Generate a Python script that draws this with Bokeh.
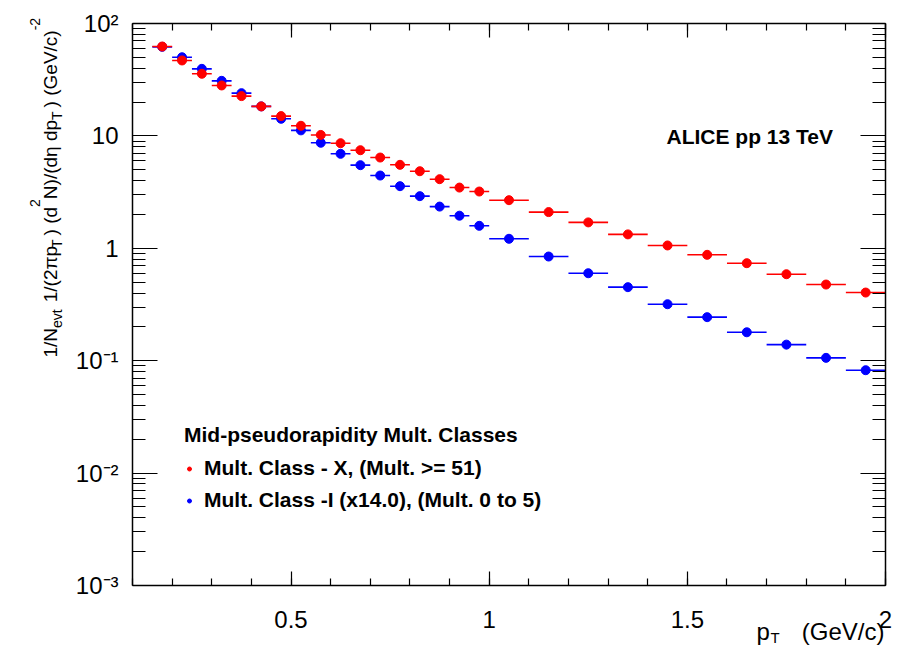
import numpy as np
from bokeh.plotting import figure
from bokeh.models import (LinearAxis, LogAxis, FixedTicker, CustomJSTickFormatter,
                          Label, Legend, LegendItem, Range1d)
from bokeh.embed import file_html
from bokeh.resources import INLINE

# ---------------- data ----------------
pt_center = [0.175, 0.225, 0.275, 0.325, 0.375, 0.425, 0.475, 0.525, 0.575, 0.625,
             0.675, 0.725, 0.775, 0.825, 0.875, 0.925, 0.975,
             1.05, 1.15, 1.25, 1.35, 1.45, 1.55, 1.65, 1.75, 1.85, 1.95]
pt_halfwidth = [0.025] * 17 + [0.05] * 10

class_x = [62.4, 46.9, 35.7, 28.1, 22.6, 18.3, 15.0, 12.3, 10.2, 8.61,
           7.46, 6.42, 5.53, 4.85, 4.12, 3.47, 3.20,
           2.68, 2.10, 1.70, 1.33, 1.06, 0.875, 0.737, 0.588, 0.476, 0.404]
class_i_scaled = [62.0, 50.1, 39.5, 30.9, 24.0, 18.3, 14.2, 11.2, 8.69, 6.93,
                  5.49, 4.44, 3.57, 2.91, 2.35, 1.95, 1.585,
                  1.215, 0.845, 0.60, 0.451, 0.318, 0.244, 0.179, 0.139, 0.106, 0.0823]

x_lim = (0.1, 2.0)
y_lim = (1e-3, 1e2)
x_major = [0.5, 1.0, 1.5, 2.0]
x_minor = [round(0.1 * k, 1) for k in range(1, 21)]
y_major = [1e-3, 1e-2, 1e-1, 1.0, 1e1, 1e2]
y_minor = [m * 10.0 ** e for e in range(-3, 2) for m in range(2, 10)]

legend_title = "Mid-pseudorapidity Mult. Classes"
label_x = "Mult. Class - X, (Mult. >= 51)"
label_i = "Mult. Class -I (x14.0), (Mult. 0 to 5)"

# ---------------- layout constants (pixels of the drawn box) ----------------
W, H = 905, 645
FL, FR, FT, FB = 132, 885, 23, 585
FONT = "Liberation Sans"

# the plotting frame covers the whole canvas; the visible box is drawn by
# axes pinned (fixed_location) at the data limits
ppx = (FR - FL) / (x_lim[1] - x_lim[0])
ndec = np.log10(y_lim[1]) - np.log10(y_lim[0])
ppd = (FB - FT) / ndec
xr = Range1d(x_lim[0] - FL / ppx, x_lim[1] + (W - FR) / ppx)
yr = Range1d(10 ** (np.log10(y_lim[0]) - (H - FB) / ppd),
             10 ** (np.log10(y_lim[1]) + FT / ppd))


def fx(px):
    return px


def fy(py):
    return H - py


p = figure(width=W, height=H, x_range=xr, y_range=yr,
           y_axis_type="log", output_backend="svg", toolbar_location=None,
           min_border=0, min_border_left=0, min_border_right=0,
           min_border_top=0, min_border_bottom=0)
p.xgrid.visible = False
p.ygrid.visible = False
p.outline_line_color = None
p.background_fill_color = "white"
p.border_fill_color = "white"

xfmt = CustomJSTickFormatter(code="return String(tick);")
yfmt = CustomJSTickFormatter(code="""
const e = Math.round(Math.log10(tick));
if (e == 0) return '1';
if (e == 1) return '10';
const sup = {'-': '\\u207b', '0': '\\u2070', '1': '\\u00b9', '2': '\\u00b2', '3': '\\u00b3'};
return '10' + String(e).split('').map(c => sup[c]).join('');
""")
nofmt = CustomJSTickFormatter(code="return '';")


def style_x(ax, loc, labels=True):
    ax.fixed_location = loc
    ax.bounds = x_lim
    ax.ticker = FixedTicker(ticks=x_major, minor_ticks=x_minor)
    ax.major_tick_in = 14
    ax.major_tick_out = 0
    ax.minor_tick_in = 7
    ax.minor_tick_out = 0
    ax.axis_line_color = "black"
    ax.axis_line_width = 1.5
    ax.major_tick_line_width = 1.2
    ax.minor_tick_line_width = 1.2
    ax.major_label_text_font = FONT
    ax.major_label_text_color = "black"
    if labels:
        ax.formatter = xfmt
        ax.major_label_text_font_size = "24px"
        ax.major_label_standoff = 25
    else:
        ax.formatter = nofmt
        ax.major_label_text_font_size = "8px"
        ax.major_label_standoff = 0


def style_y(ax, loc, labels=True):
    ax.fixed_location = loc
    ax.bounds = y_lim
    ax.ticker = FixedTicker(ticks=y_major, minor_ticks=y_minor)
    ax.major_tick_in = 25
    ax.major_tick_out = 0
    ax.minor_tick_in = 13
    ax.minor_tick_out = 0
    ax.axis_line_color = "black"
    ax.axis_line_width = 1.5
    ax.major_tick_line_width = 1.2
    ax.minor_tick_line_width = 1.2
    ax.major_label_text_font = FONT
    ax.major_label_text_color = "black"
    if labels:
        ax.formatter = yfmt
        ax.major_label_text_font_size = "24px"
        ax.major_label_standoff = 14
    else:
        ax.formatter = nofmt
        ax.major_label_text_font_size = "8px"
        ax.major_label_standoff = 0


style_x(p.xaxis[0], y_lim[0], True)
style_y(p.yaxis[0], x_lim[0], True)
top_ax = LinearAxis()
style_x(top_ax, y_lim[1], False)
p.add_layout(top_ax, "above")
right_ax = LogAxis()
style_y(right_ax, x_lim[1], False)
p.add_layout(right_ax, "right")

# ---------------- data marks ----------------
xc = np.array(pt_center)
hw = np.array(pt_halfwidth)
yx = np.array(class_x)
yi = np.array(class_i_scaled)

p.segment(x0=xc - hw, x1=xc + hw, y0=yi, y1=yi, line_color="#0000ff", line_width=1.6)
blue_r = p.scatter(x=xc, y=yi, size=9, fill_color="#0000ff", line_color="#0000ff")
p.segment(x0=xc - hw, x1=xc + hw, y0=yx, y1=yx, line_color="#ff0000", line_width=1.6)
red_r = p.scatter(x=xc, y=yx, size=9, fill_color="#ff0000", line_color="#ff0000")

legend = Legend(items=[LegendItem(label=label_x, renderers=[red_r]),
                       LegendItem(label=label_i, renderers=[blue_r])],
                title=legend_title, location=(184, H - 512),
                title_text_font=FONT, title_text_font_style="bold",
                title_text_font_size="21px", title_text_color="black",
                label_text_font=FONT, label_text_font_style="bold",
                label_text_font_size="21px", label_text_color="black",
                background_fill_alpha=0, border_line_alpha=0,
                padding=0, margin=0, spacing=8, glyph_width=10, glyph_height=21,
                label_height=21, label_standoff=10, title_standoff=9)
p.add_layout(legend)

# ---------------- texts ----------------
p.add_layout(Label(x=fx(666), y=fy(136), text="ALICE pp 13 TeV", x_units="screen",
                   y_units="screen", text_font=FONT, text_font_style="bold",
                   text_font_size="21px", text_color="black",
                   text_align="left", text_baseline="alphabetic"))

# x title: p_T (GeV/c)
p.add_layout(Label(x=fx(756), y=fy(631), text="p", x_units="screen", y_units="screen",
                   text_font=FONT, text_font_size="24px", text_align="left",
                   text_baseline="alphabetic", text_color="black"))
p.add_layout(Label(x=fx(770), y=fy(637), text="T", x_units="screen", y_units="screen",
                   text_font=FONT, text_font_size="15px", text_align="left",
                   text_baseline="alphabetic", text_color="black"))
p.add_layout(Label(x=fx(884), y=fy(631), text="(GeV/c)", x_units="screen", y_units="screen",
                   text_font=FONT, text_font_size="24px", text_align="right",
                   text_baseline="alphabetic", text_color="black"))

# y title, rotated, built from pieces (main / subscript / superscript)
ADV = {' ': 278, '(': 333, ')': 333, '/': 278, '1': 556, '2': 556, 'N': 722, 'e': 556,
       'v': 500, 't': 278, 'p': 556, 'T': 611, 'd': 556, 'G': 778, 'V': 667, 'c': 500,
       '-': 333, '\u03c0': 578, '\u03b7': 556}


def tw(s, size):
    return sum(ADV[c] for c in s) * size / 1000.0


MAIN, SMALL = 19, 14
BASE_X = 50
SUB, SUP = 6, -16
# (text, font size, baseline shift, gap before in px)
pieces = [("1/N", MAIN, 0, 0), ("evt", SMALL, SUB, 0),
          ("1/(2\u03c0p", MAIN, 0, 7), ("T", SMALL, SUB, 0),
          (") (d", MAIN, 0, 4), ("2", SMALL, SUP, 0),
          ("N)/(d\u03b7 dp", MAIN, 0, 0), ("T", SMALL, SUB, 0),
          (") (GeV/c)", MAIN, 0, 4), ("-2", SMALL, SUP, 0)]
cur = 357.0
for txt, size, dx, gap in pieces:
    cur -= gap
    p.add_layout(Label(x=fx(BASE_X + dx), y=fy(cur), text=txt, angle=np.pi / 2,
                       x_units="screen", y_units="screen", text_font=FONT,
                       text_font_size=f"{size}px", text_align="left",
                       text_baseline="alphabetic", text_color="black"))
    cur -= tw(txt, size)

open("out.html", "w").write(file_html(p, INLINE))
